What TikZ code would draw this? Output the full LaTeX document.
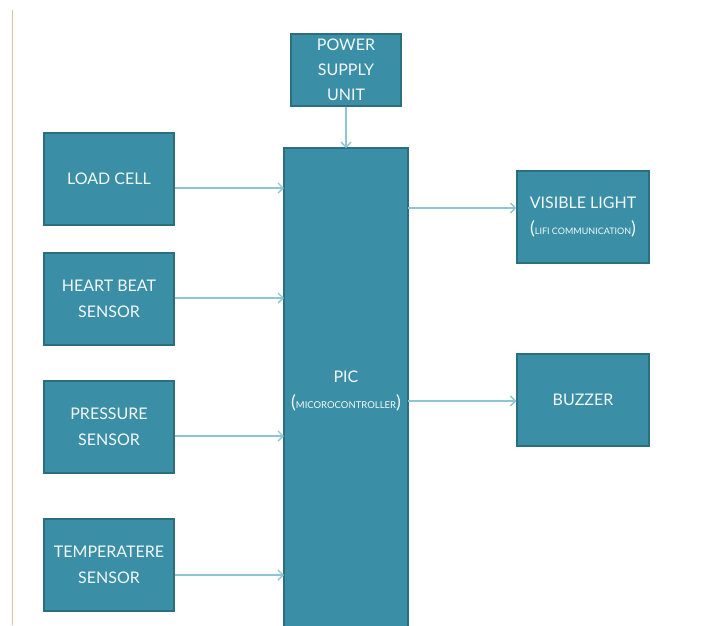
\documentclass[tikz,border=0pt]{standalone}
\usepackage{fontspec}
\setmainfont{Lato}
\usetikzlibrary{arrows.meta}
\definecolor{boxfill}{HTML}{3A8FA6}
\definecolor{boxline}{HTML}{2A6E80}
\definecolor{arrowc}{HTML}{8EC5D2}
\definecolor{rulec}{HTML}{CFC3A8}
\definecolor{txt}{HTML}{F4F8F8}
\begin{document}
\begin{tikzpicture}[x=1pt,y=-1pt,
  blk/.style={draw=boxline,line width=1.4pt,fill=boxfill,text=txt,align=center,inner sep=0pt,
    font=\fontsize{16}{26}\selectfont},
  conn/.style={draw=arrowc,line width=1.4pt,-{Straight Barb[length=5pt,width=10pt]}}]
\useasboundingbox (0,0) rectangle (718,625);
\fill[white] (0,0) rectangle (718,625);
\draw[rulec,line width=0.8pt] (12,10) -- (12,625);
% boxes
\node[blk,minimum width=110pt,minimum height=72pt,font=\fontsize{16}{25}\selectfont] (psu) at (346,70) {POWER\\SUPPLY\\UNIT};
\draw[boxline,line width=1.4pt,fill=boxfill] (284,148) rectangle (408,640);
\node[text=txt,align=center,font=\fontsize{16}{26}\selectfont] (pic) at (346,391)
  {PIC\\{\fontsize{18}{18}\selectfont(}{\fontsize{9.5}{9.5}\selectfont MICOROCONTROLLER}{\fontsize{18}{18}\selectfont)}};
\node[blk,minimum width=130pt,minimum height=92pt] (load) at (109,179) {LOAD CELL};
\node[blk,minimum width=130pt,minimum height=92pt] (heart) at (109,299) {HEART BEAT\\SENSOR};
\node[blk,minimum width=130pt,minimum height=92pt] (press) at (109,427) {PRESSURE\\SENSOR};
\node[blk,minimum width=130pt,minimum height=92pt] (temp) at (109,565) {TEMPERATERE\\SENSOR};
\node[blk,minimum width=132pt,minimum height=92pt] (vis) at (583,217) {VISIBLE LIGHT\\{\fontsize{18}{18}\selectfont(}{\fontsize{9}{9}\selectfont LIFI COMMUNICATION}{\fontsize{18}{18}\selectfont)}};
\node[blk,minimum width=132pt,minimum height=92pt] (buzz) at (583,400) {BUZZER};
% connectors
\coordinate (pictop) at (346,148);
\draw[conn] (psu.south) -- (pictop);
\coordinate (in1) at (284,188);
\coordinate (in2) at (284,298);
\coordinate (in3) at (284,436);
\coordinate (in4) at (284,575);
\draw[conn] (load.east |- in1) -- (in1);
\draw[conn] (heart.east |- in2) -- (in2);
\draw[conn] (press.east |- in3) -- (in3);
\draw[conn] (temp.east |- in4) -- (in4);
\coordinate (out1) at (408,208);
\coordinate (out2) at (408,401);
\draw[conn] (out1) -- (vis.west |- out1);
\draw[conn] (out2) -- (buzz.west |- out2);
\end{tikzpicture}
\end{document}
